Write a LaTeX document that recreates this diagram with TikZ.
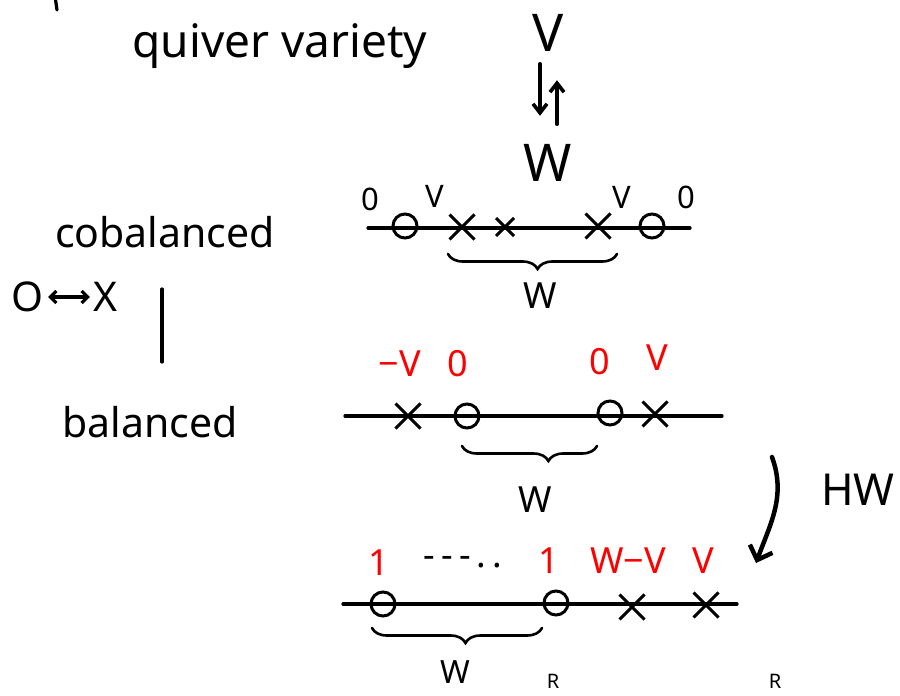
\documentclass[tikz,border=0pt]{standalone}
\usepackage{fontspec}
\setmainfont{Noto Sans}
\usetikzlibrary{shapes.misc,decorations.pathreplacing,arrows.meta}
\begin{document}
\begin{tikzpicture}[x=1pt,y=-1pt,
  ink/.style={line width=3.2pt, line cap=round},
  omark/.style={circle, draw, line width=3pt, minimum size=24pt, inner sep=0pt},
  xmark/.style={cross out, draw, line width=3pt, minimum size=22pt, inner sep=0pt},
  smallx/.style={xmark, minimum size=15pt},
  bigtxt/.style={font=\fontsize{46}{52}\selectfont, inner sep=0pt},
  vwtxt/.style={font=\fontsize{52}{58}\selectfont, inner sep=0pt},
  txt/.style={font=\fontsize{41}{47}\selectfont, inner sep=0pt},
  lab/.style={font=\fontsize{36}{42}\selectfont, inner sep=0pt},
  slab/.style={font=\fontsize{31}{36}\selectfont, inner sep=0pt},
  redlab/.style={lab, text=red},
  wbrace/.style={line width=2.6pt, line cap=round, decorate, decoration={brace, mirror, amplitude=15pt}},
  barb/.style={-{Straight Barb[length=9pt,width=14pt]}},
]
\useasboundingbox (0,0) rectangle (900,696);

% top-left stray stroke
\draw[ink] (55,-4) -- (57,10);

% title and V / W
\node[bigtxt] (title) at (280,46) {quiver variety};
\node[vwtxt] (V) at (548,33) {V};
\node[vwtxt] (W) at (548,163) {W};
\draw[ink, line width=3.6pt, barb] ([xshift=-8pt]V.south) ++(0,12) coordinate (d1) -- ++(0,52) coordinate (d2);
\draw[ink, line width=3.6pt, barb] ([xshift=9pt]W.north) ++(0,-20) coordinate (u1) -- ++(0,-44) coordinate (u2);

% left column
\node[txt] (cob) at (165,232) {cobalanced};
\node[txt] (O) at (28,297) {O};
\node[txt] (Xl) at (106,297) {X};
\draw[ink, {Straight Barb[length=6pt,width=12pt]}-{Straight Barb[length=6pt,width=12pt]}] (O.east) ++(4,0) -- ([xshift=-4pt]Xl.west);
\coordinate (vt) at (162,289);
\coordinate (vb) at (162,362);
\draw[ink] (vt) -- (vb);
\node[txt] (bal) at (150,422) {balanced};

% row 1 (cobalanced)
\coordinate (l1a) at (368,228);
\coordinate (l1b) at (690,228);
\draw[ink] (l1a) -- (l1b);
\node[omark] (c1) at (405,226) {};
\node[omark] (c2) at (652,226) {};
\node[xmark] (x1) at (462,227) {};
\node[smallx] (x2) at (505,227) {};
\node[xmark] (x3) at (598,226) {};
\node[slab] (z1) at (370,199) {0};
\node[slab] (v1) at (435,196) {V};
\node[slab] (v2) at (622,197) {V};
\node[slab] (z2) at (686,197) {0};
\coordinate (b1a) at (448,254);
\coordinate (b1b) at (617,254);
\draw[wbrace, decoration={aspect=0.53}] (b1a) -- (b1b);
\node[lab] (w1) at (540,296) {W};

% row 2 (balanced)
\coordinate (l2a) at (345,416);
\coordinate (l2b) at (722,416);
\draw[ink] (l2a) -- (l2b);
\node[xmark] (y1) at (408,416) {};
\node[omark] (o1) at (467,416) {};
\node[omark] (o2) at (610,413) {};
\node[xmark] (y2) at (655,414) {};
\node[redlab] (r1) at (400,364) {\textminus V};
\node[redlab] (r2) at (458,364) {0};
\node[redlab] (r3) at (600,362) {0};
\node[redlab] (r4) at (657,358) {V};
\coordinate (b2a) at (462,446);
\coordinate (b2b) at (597,446);
\draw[wbrace, decoration={aspect=0.64}] (b2a) -- (b2b);
\node[lab] (w2) at (535,500) {W};

% HW arrow
\coordinate (h1) at (772,457);
\coordinate (h2) at (756,563);
\draw[line width=4.5pt, line cap=round, -{Straight Barb[length=12pt,width=24pt]}] (h1) to[out=-70,in=70] (h2);
\node[inner sep=0pt, font=\fontsize{44}{50}\selectfont] (hw) at (858,490) {\bfseries HW};

% row 3
\coordinate (l3a) at (343,604);
\coordinate (l3b) at (737,604);
\draw[ink] (l3a) -- (l3b);
\node[omark] (p1) at (383,604) {};
\node[omark] (p2) at (556,603) {};
\node[xmark] (q1) at (632,607) {};
\node[xmark] (q2) at (706,605) {};
\node[redlab] (s1) at (379,563) {1};
\node[redlab] (s2) at (549,561) {1};
\node[redlab] (s3) at (628,561) {W\textminus V};
\node[redlab] (s4) at (703,561) {V};
\node[lab] (dots) at (463,562) {-\,-\,-\,.\,.};
\coordinate (b3a) at (372,628);
\coordinate (b3b) at (542,628);
\draw[wbrace, decoration={aspect=0.55}] (b3a) -- (b3b);
\node[lab, font=\fontsize{32}{36}\selectfont] (w3) at (455,672) {W};

% letters at the bottom edge
\node[font=\fontsize{20}{24}\selectfont, inner sep=0pt, anchor=south] (R1) at (553,689) {R};
\node[font=\fontsize{20}{24}\selectfont, inner sep=0pt, anchor=south] (R2) at (775,689) {R};
\end{tikzpicture}
\end{document}
